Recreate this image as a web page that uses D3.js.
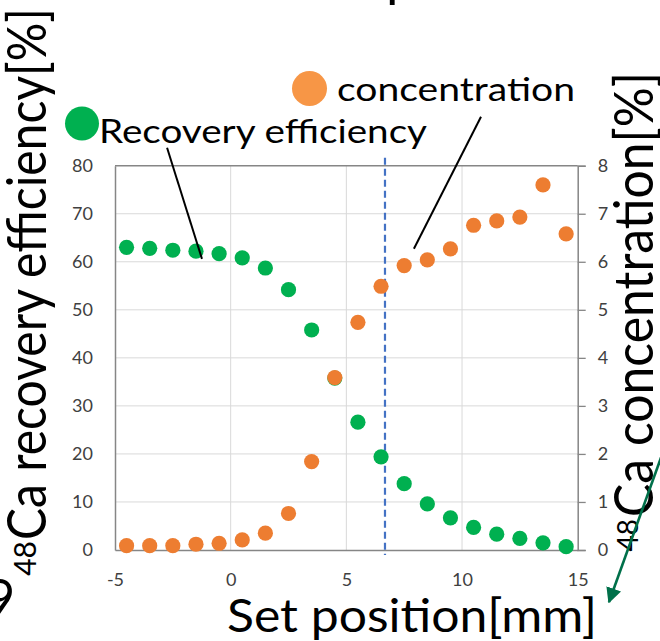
<!DOCTYPE html>
<html>
<head>
<meta charset="utf-8">
<script src="https://cdn.jsdelivr.net/npm/d3@7"></script>
<style>
  html, body { margin: 0; padding: 0; background: #fff; }
  svg { display: block; font-family: Lato, "Open Sans", sans-serif; }
</style>
</head>
<body>
<svg id="chart" width="660" height="641"></svg>
<script>
// Set position of the target [mm]
const positions = [-4.5, -3.5, -2.5, -1.5, -0.5, 0.5, 1.5, 2.5, 3.5, 4.5,
                   5.5, 6.5, 7.5, 8.5, 9.5, 10.5, 11.5, 12.5, 13.5, 14.5];
// 48Ca recovery efficiency [%] (left axis)
const recovery = [63.0, 62.8, 62.4, 62.2, 61.7, 60.8, 58.7, 54.2, 45.8, 35.8,
                  26.6, 19.4, 13.8, 9.6, 6.7, 4.7, 3.3, 2.4, 1.5, 0.7];
// 48Ca concentration [%] (right axis)
const concentration = [0.09, 0.09, 0.09, 0.12, 0.14, 0.21, 0.35, 0.76, 1.84, 3.59,
                       4.74, 5.49, 5.92, 6.04, 6.27, 6.76, 6.85, 6.93, 7.60, 6.58];
// chosen set position, marked with a dashed line
const chosenPosition = 6.67;

const xTicks = [-5, 0, 5, 10, 15];
const leftTicks = [0, 10, 20, 30, 40, 50, 60, 70, 80];
const rightTicks = [0, 1, 2, 3, 4, 5, 6, 7, 8];

const svg = d3.select("#chart");
const plot = { left: 115, right: 577.7, top: 165.7, bottom: 550 };

const x = d3.scaleLinear().domain([-5, 15]).range([plot.left, plot.right]);
const yL = d3.scaleLinear().domain([0, 80]).range([plot.bottom, plot.top]);
const yR = d3.scaleLinear().domain([0, 8]).range([plot.bottom, plot.top]);

const GREEN = "#00B050", ORANGE = "#ED7D31", GRID = "#D9D9D9", AXIS = "#868686", TICKTXT = "#404040";

// gridlines
svg.append("g").selectAll("line").data(leftTicks.slice(1, -1)).join("line")
  .attr("x1", plot.left).attr("x2", plot.right)
  .attr("y1", d => yL(d)).attr("y2", d => yL(d))
  .attr("stroke", GRID).attr("stroke-width", 1);
svg.append("g").selectAll("line").data(xTicks.slice(1, -1)).join("line")
  .attr("x1", d => x(d)).attr("x2", d => x(d))
  .attr("y1", plot.top).attr("y2", plot.bottom)
  .attr("stroke", GRID).attr("stroke-width", 1);

// bottom axis
const xAxis = svg.append("g").attr("transform", `translate(0,${plot.bottom})`)
  .call(d3.axisBottom(x).tickValues(xTicks).tickSize(0).tickPadding(23)
        .tickFormat(d => d < 0 ? "-" + Math.abs(d) : d));
// left axis
const lAxis = svg.append("g").attr("transform", `translate(${plot.left},0)`)
  .call(d3.axisLeft(yL).tickValues(leftTicks).tickSize(0).tickPadding(22));
// right axis
const rAxis = svg.append("g").attr("transform", `translate(${plot.right},0)`)
  .call(d3.axisRight(yR).tickValues(rightTicks).tickSize(8).tickPadding(12));

[xAxis, lAxis, rAxis].forEach(a => {
  a.select(".domain").attr("stroke", AXIS).attr("stroke-width", 1.5);
  a.selectAll(".tick line").attr("stroke", AXIS).attr("stroke-width", 1.3);
  a.selectAll(".tick text").attr("fill", TICKTXT)
    .style("font-family", "Lato, sans-serif").style("font-size", "18px");
});
// top border of the plot area
svg.append("line")
  .attr("x1", plot.left).attr("x2", plot.right)
  .attr("y1", plot.top).attr("y2", plot.top)
  .attr("stroke", AXIS).attr("stroke-width", 1.5);

// dashed marker at the chosen position
svg.append("line")
  .attr("x1", x(chosenPosition)).attr("x2", x(chosenPosition))
  .attr("y1", plot.top - 8).attr("y2", plot.bottom + 5)
  .attr("stroke", "#4472C4").attr("stroke-width", 2.2)
  .attr("stroke-dasharray", "7,4");

// data points
const rows = positions.map((p, i) => ({ p, r: recovery[i], c: concentration[i] }));
svg.append("g").selectAll("circle").data(rows).join("circle")
  .attr("cx", d => x(d.p)).attr("cy", d => yL(d.r)).attr("r", 7.6)
  .attr("fill", GREEN);
svg.append("g").selectAll("circle").data(rows).join("circle")
  .attr("cx", d => x(d.p)).attr("cy", d => yR(d.c)).attr("r", 7.6)
  .attr("fill", ORANGE);

// legend labels with leader lines
svg.append("circle").attr("cx", 82).attr("cy", 123.5).attr("r", 17).attr("fill", GREEN);
svg.append("text").attr("x", 99).attr("y", 143)
  .attr("font-size", 33).attr("textLength", 328).attr("lengthAdjust", "spacingAndGlyphs")
  .text("Recovery efficiency");
svg.append("circle").attr("cx", 309.5).attr("cy", 88.5).attr("r", 17.5).attr("fill", "#F79646");
svg.append("text").attr("x", 337).attr("y", 101)
  .attr("font-size", 33).attr("textLength", 238).attr("lengthAdjust", "spacingAndGlyphs")
  .text("concentration");

svg.append("line")
  .attr("x1", x(-2.75)).attr("y1", yL(83.75))
  .attr("x2", x(-1.24)).attr("y2", yL(60.6))
  .attr("stroke", "#000").attr("stroke-width", 2);
svg.append("line")
  .attr("x1", x(10.82)).attr("y1", yR(9.02))
  .attr("x2", x(7.92)).attr("y2", yR(6.27))
  .attr("stroke", "#000").attr("stroke-width", 2);

// axis titles
svg.append("text").attr("x", 227).attr("y", 632)
  .attr("font-size", 46).attr("textLength", 370).attr("lengthAdjust", "spacingAndGlyphs")
  .text("Set position[mm]");

const leftTitle = svg.append("g");
leftTitle.append("text").attr("transform", "translate(46,540) rotate(-90)")
  .attr("font-size", 54).attr("textLength", 532).attr("lengthAdjust", "spacingAndGlyphs")
  .text("Ca recovery efficiency[%]");
leftTitle.append("text").attr("transform", "translate(36,541) rotate(-90)")
  .attr("text-anchor", "end").attr("font-size", 30)
  .text("48");
leftTitle.append("text").attr("x", -15).attr("y", 617)
  .attr("font-size", 52).text("9");

const rightTitle = svg.append("g");
rightTitle.append("text").attr("transform", "translate(653,517) rotate(-90)")
  .attr("font-size", 54).attr("textLength", 445).attr("lengthAdjust", "spacingAndGlyphs")
  .text("Ca concentration[%]");
rightTitle.append("text").attr("transform", "translate(638,519) rotate(-90)")
  .attr("text-anchor", "end").attr("font-size", 28)
  .text("48");

// clipped chart heading at the top edge
svg.append("text").attr("x", 386).attr("y", -4).attr("font-size", 54).text("p");

// arrow pointing to the x-axis title
svg.append("defs").append("marker")
  .attr("id", "arrowHead").attr("viewBox", "0 0 10 10")
  .attr("refX", 9).attr("refY", 5)
  .attr("markerWidth", 6).attr("markerHeight", 6)
  .attr("markerUnits", "strokeWidth").attr("orient", "auto")
  .append("path").attr("d", "M0,0 L10,5 L0,10 Z").attr("fill", "#00704A");
svg.append("line")
  .attr("x1", 663).attr("y1", 452).attr("x2", 609).attr("y2", 602)
  .attr("stroke", "#00704A").attr("stroke-width", 2.6)
  .attr("marker-end", "url(#arrowHead)");
</script>
</body>
</html>
